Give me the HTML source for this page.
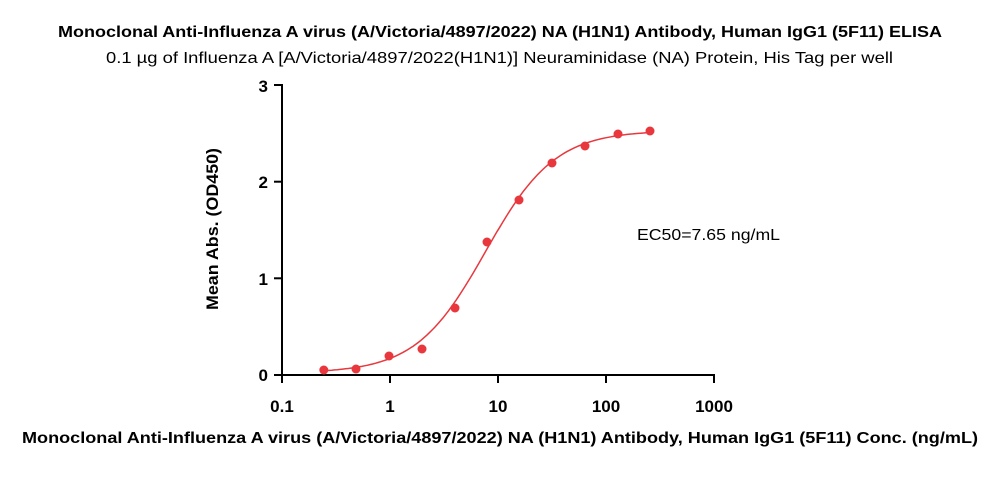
<!DOCTYPE html>
<html><head><meta charset="utf-8"><style>
body{margin:0;background:#fff;width:1000px;height:493px;overflow:hidden}
svg{display:block;font-family:"Liberation Sans",Arial,sans-serif}
</style></head><body>
<svg width="1000" height="493" viewBox="0 0 1000 493">
<text x="58" y="37" font-size="16" font-weight="bold" textLength="884" lengthAdjust="spacingAndGlyphs">Monoclonal Anti-Influenza A virus (A/Victoria/4897/2022) NA (H1N1) Antibody, Human IgG1 (5F11) ELISA</text>
<text x="106" y="63" font-size="16" textLength="787" lengthAdjust="spacingAndGlyphs">0.1 µg of Influenza A [A/Victoria/4897/2022(H1N1)] Neuraminidase (NA) Protein, His Tag per well</text>
<g stroke="#000" stroke-width="2" fill="none">
<line x1="282" y1="84" x2="282" y2="376"/>
<line x1="281" y1="375" x2="715" y2="375"/>
<line x1="274" y1="85" x2="282" y2="85"/>
<line x1="274" y1="181.7" x2="282" y2="181.7"/>
<line x1="274" y1="278.3" x2="282" y2="278.3"/>
<line x1="274" y1="375" x2="282" y2="375"/>
<line x1="282" y1="375" x2="282" y2="383"/>
<line x1="390" y1="375" x2="390" y2="383"/>
<line x1="498" y1="375" x2="498" y2="383"/>
<line x1="606" y1="375" x2="606" y2="383"/>
<line x1="714" y1="375" x2="714" y2="383"/>
</g>
<g font-size="17" font-weight="bold" text-anchor="end">
<text x="268" y="92">3</text><text x="268" y="188">2</text><text x="268" y="285">1</text><text x="268" y="381">0</text>
</g>
<g font-size="17" font-weight="bold" text-anchor="middle">
<text x="282" y="412">0.1</text><text x="390" y="412">1</text><text x="498" y="412">10</text><text x="606" y="412">100</text><text x="714" y="412">1000</text>
</g>
<text transform="translate(218,310) rotate(-90)" font-size="17" font-weight="bold" textLength="162" lengthAdjust="spacingAndGlyphs">Mean Abs. (OD450)</text>
<text x="22" y="443" font-size="16" font-weight="bold" textLength="956" lengthAdjust="spacingAndGlyphs">Monoclonal Anti-Influenza A virus (A/Victoria/4897/2022) NA (H1N1) Antibody, Human IgG1 (5F11) Conc. (ng/mL)</text>
<text x="637" y="240" font-size="16" textLength="143" lengthAdjust="spacingAndGlyphs">EC50=7.65 ng/mL</text>
<path id="curve" fill="none" stroke="#e8383d" stroke-width="1.5" d=""/>
<g fill="#e8383d">
<circle cx="323.8" cy="370" r="4.5"/><circle cx="356" cy="369" r="4.5"/><circle cx="389" cy="356" r="4.5"/><circle cx="422" cy="349" r="4.5"/><circle cx="455" cy="308" r="4.5"/><circle cx="487" cy="242" r="4.5"/><circle cx="519" cy="200" r="4.5"/><circle cx="552" cy="163" r="4.5"/><circle cx="585" cy="146" r="4.5"/><circle cx="618" cy="134" r="4.5"/><circle cx="650" cy="131" r="4.5"/>
</g>
</svg>
<script>
var d="";for(var i=0;i<=120;i++){var lx=Math.log10(0.244)+i*(Math.log10(250)-Math.log10(0.244))/120;var x=Math.pow(10,lx);
var y=0.02+(2.53-0.02)/(1+Math.pow(7.65/x,1.35));var px=282+108*(lx+1),py=375-96.67*y;d+=(i?"L":"M")+px.toFixed(1)+","+py.toFixed(1);}
document.getElementById("curve").setAttribute("d",d);
</script>
</body></html>
